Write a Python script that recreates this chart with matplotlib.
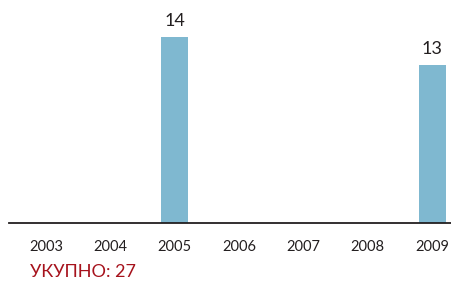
import matplotlib.pyplot as plt

years = ['2003', '2004', '2005', '2006', '2007', '2008', '2009']
counts = [0, 0, 14, 0, 0, 0, 13]
total_label = 'УКУПНО: 27'

bar_color = '#7fb8d0'
text_color = '#231f20'

fig = plt.figure(figsize=(4.52, 2.81), dpi=100)
ax = fig.add_axes([9 / 452, 58 / 281, 443 / 452, 223 / 281])

x = range(len(years))
ax.bar(x, counts, width=0.42, color=bar_color, zorder=2)

# value labels only on bars that exist
for i, v in zip(x, counts):
    if v > 0:
        ax.text(i, v + 0.3, str(v), ha='center', va='bottom', fontsize=13,
                color=text_color, family=['Lato', 'DejaVu Sans'])

ax.set_xlim(-0.58, 6.31)
ax.set_ylim(7.36, 15.32)
ax.set_xticks(list(x))
ax.set_xticklabels(years, fontsize=10.5, color=text_color, family=['Lato', 'DejaVu Sans'])
ax.tick_params(axis='x', length=0, pad=12)
ax.set_yticks([])

for side in ['top', 'right', 'left']:
    ax.spines[side].set_visible(False)
ax.spines['bottom'].set_color('#231f20')
ax.spines['bottom'].set_linewidth(1.3)
ax.spines['bottom'].set_zorder(3)

fig.text(30 / 452, 1 - 272 / 281, total_label, ha='left', va='center', fontsize=13,
         color='#a6121c', family=['Lato', 'Open Sans', 'DejaVu Sans'])

fig.savefig('out.png', dpi=100)
